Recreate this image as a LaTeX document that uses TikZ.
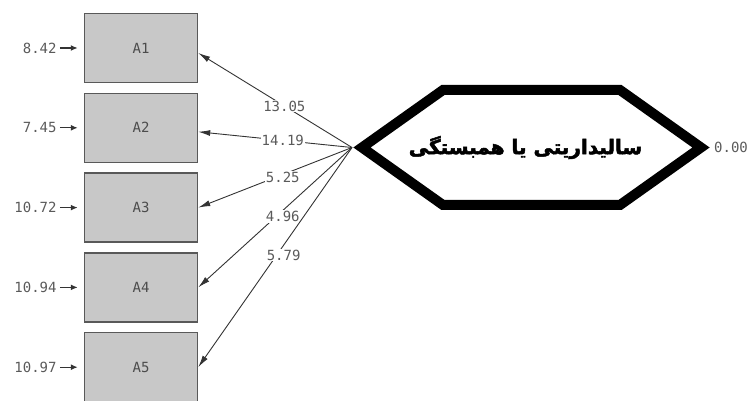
\documentclass[tikz,border=0pt]{standalone}
\usepackage{fontspec}
\setmonofont{DejaVu Sans Mono}
\newfontfamily\arabicfont[Script=Arabic,FakeBold=2.5]{DejaVu Sans}
\TeXXeTstate=1
\usetikzlibrary{arrows.meta,positioning}

\definecolor{boxgray}{HTML}{C8C8C8}
\definecolor{linegray}{HTML}{333333}
\definecolor{numgray}{HTML}{5A5A5A}

\begin{document}
\begin{tikzpicture}[
  x=1pt, y=1pt,
  node distance=9.3pt,
  item/.style={draw=black!65, line width=1.5pt, fill=boxgray, minimum width=113pt, minimum height=69pt, inner sep=0pt, font=\ttfamily\fontsize{14}{14}\selectfont, text=black!70},
  hexline/.style={draw, line width=10pt, line join=miter},
  latent/.style={inner sep=0pt, font=\arabicfont\bfseries\fontsize{20}{20}\selectfont},
  num/.style={font=\ttfamily\fontsize{14}{14}\selectfont, text=numgray, inner sep=1pt},
  load/.style={num, fill=white},
  arr/.style={-{Latex[length=12pt,width=6pt]}, linegray, line width=0.9pt},
  err/.style={-{Latex[length=7pt,width=6pt]}, linegray, line width=1.3pt}
]
\useasboundingbox (0,0) rectangle (755,401);
% indicators
\node[item] (a1) at (141,353) {A1};
\node[item, below=of a1] (a2) {A2};
\node[item, below=of a2] (a3) {A3};
\node[item, below=of a3] (a4) {A4};
\node[item, below=of a4] (a5) {A5};
% latent variable
\draw[hexline] (362,253.5) -- (443,311) -- (620,311) -- (701,253.5) -- (620,196) -- (443,196) -- cycle;
\coordinate (tip) at (352,253.5);
\node[latent] (soli) at (525.5,253.5) {\beginR سالیداریتی یا همبستگی\endR};
\node[num, anchor=west] (var) at (713,253.5) {0.00};
% error terms
\node[num, left=26pt of a1] (e1) {8.42};
\node[num, left=26pt of a2] (e2) {7.45};
\node[num, left=26pt of a3] (e3) {10.72};
\node[num, left=26pt of a4] (e4) {10.94};
\node[num, left=26pt of a5] (e5) {10.97};
\draw[err, shorten <=2pt, shorten >=6pt] (e1) -- (a1);
\draw[err, shorten <=2pt, shorten >=6pt] (e2) -- (a2);
\draw[err, shorten <=2pt, shorten >=6pt] (e3) -- (a3);
\draw[err, shorten <=2pt, shorten >=6pt] (e4) -- (a4);
\draw[err, shorten <=2pt, shorten >=6pt] (e5) -- (a5);
% loadings
\draw[arr] (tip) -- node[load, pos=0.44]{13.05} ([yshift=-5pt]a1.east);
\draw[arr] (tip) -- node[load, pos=0.45]{14.19} ([yshift=-4pt]a2.east);
\draw[arr] (tip) -- node[load, pos=0.45, yshift=-3pt]{5.25} (a3.east);
\draw[arr] (tip) -- node[load, pos=0.45, yshift=-6pt]{4.96} (a4.east);
\draw[arr] (tip) -- node[load, pos=0.49, xshift=7pt]{5.79} (a5.east);
\end{tikzpicture}
\end{document}
